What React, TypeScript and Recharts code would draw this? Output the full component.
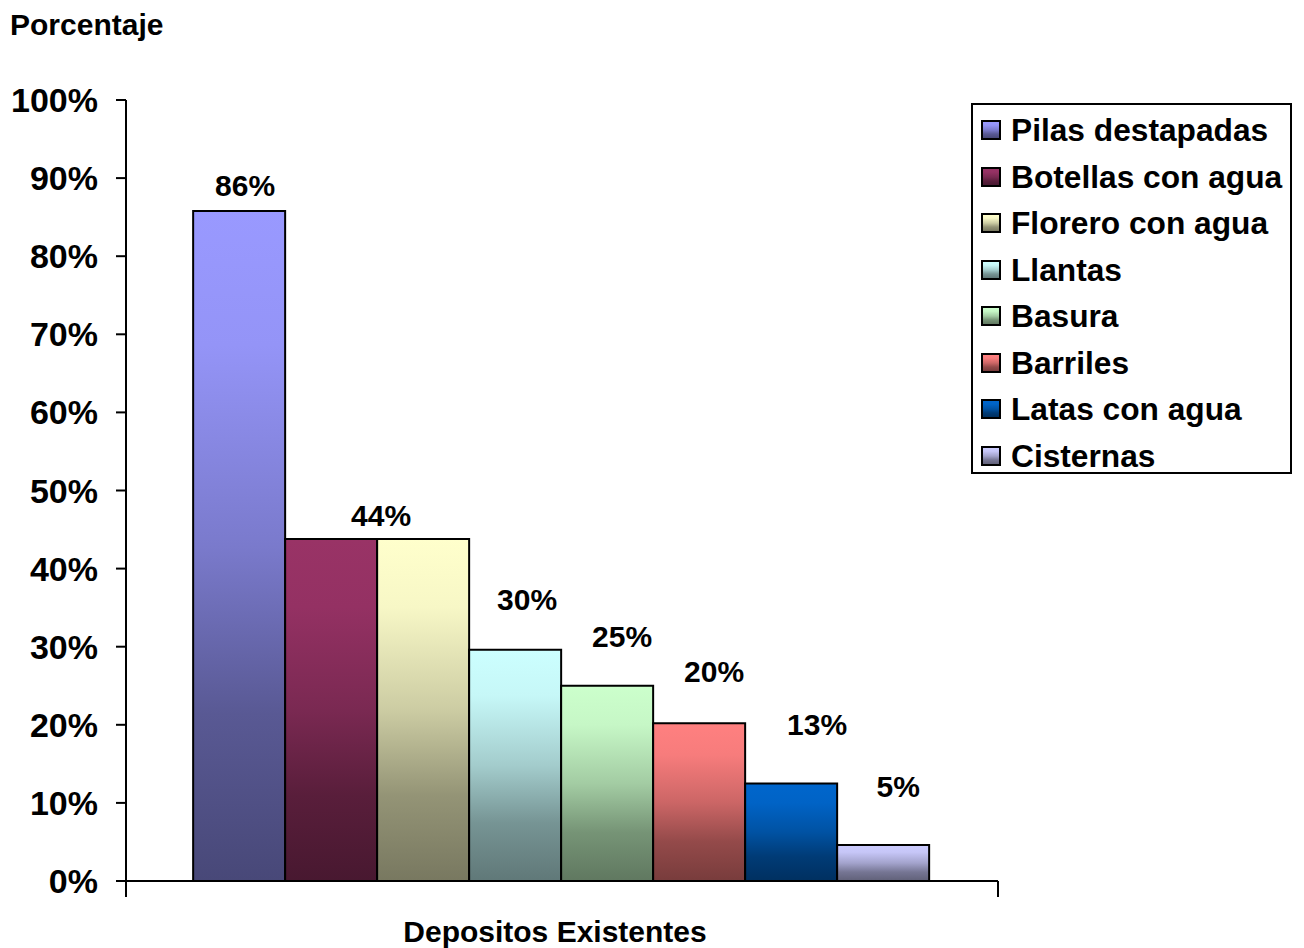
import React from 'react';
import { BarChart, Bar, XAxis, YAxis, Legend, LabelList } from 'recharts';

// ---- data ----
const CATEGORIES = ['Depositos Existentes'];
const SERIES_NAMES = [
  'Pilas destapadas',
  'Botellas con agua',
  'Florero con agua',
  'Llantas',
  'Basura',
  'Barriles',
  'Latas con agua',
  'Cisternas',
];
const SERIES_VALUES = [85.8, 43.8, 43.8, 29.6, 25.0, 20.2, 12.5, 4.6];
const Y_TICKS = [0, 10, 20, 30, 40, 50, 60, 70, 80, 90, 100];

// ---- styling ----
const SERIES_COLORS = ['#9999FF', '#993366', '#FFFFCC', '#CCFFFF', '#CCFFCC', '#FF8080', '#0066CC', '#CCCCFF'];
// the two equal 44% bars share a single value label
const SHOW_LABEL = [true, true, false, true, true, true, true, true];
// label placement relative to the top centre of its bar: [dx, baseline distance above the top]
const LABEL_OFFSETS: [number, number][] = [
  [6, 15], [50, 13], [0, 0], [12, 40], [15, 39], [15, 41], [26, 48], [15, 48],
];
// vertical shading: position along the bar -> brightness factor
const SHADE_STOPS: [number, number][] = [
  [0, 1], [0.2, 0.97], [0.5, 0.8], [0.75, 0.58], [1, 0.47],
];

const FONT = '"Liberation Sans", Arial, Helvetica, sans-serif';
const W = 1304;
const H = 948;
const MARGIN = { top: 100, right: 306, bottom: 0, left: 0 };
const Y_AXIS_W = 126;
const X_AXIS_H = 67;
const PLOT_LEFT = MARGIN.left + Y_AXIS_W;
const PLOT_RIGHT = W - MARGIN.right;

const keyOf = (i: number) => `s${i}`;

const rows = CATEGORIES.map((name) => {
  const row: Record<string, string | number> = { name };
  SERIES_VALUES.forEach((v, i) => {
    row[keyOf(i)] = v;
  });
  return row;
});

function shade(hex: string, f: number): string {
  const n = parseInt(hex.slice(1), 16);
  const r = Math.round(((n >> 16) & 255) * f);
  const g = Math.round(((n >> 8) & 255) * f);
  const b = Math.round((n & 255) * f);
  return `rgb(${r},${g},${b})`;
}

function cssGradient(hex: string): string {
  return `linear-gradient(to bottom, ${SHADE_STOPS.map(([o, f]) => `${shade(hex, f)} ${o * 100}%`).join(', ')})`;
}

const CategoryTick = (props: any) => {
  const { x, y, payload } = props;
  return (
    <g>
      <line x1={PLOT_LEFT} x2={PLOT_LEFT} y1={y - 16} y2={y} stroke="#000" strokeWidth={2} />
      <line x1={PLOT_RIGHT} x2={PLOT_RIGHT} y1={y - 16} y2={y} stroke="#000" strokeWidth={2} />
      <text
        x={x - 7}
        y={y + 45}
        textAnchor="middle"
        fill="#000"
        fontSize={30}
        fontWeight={700}
        fontFamily={FONT}
      >
        {payload.value}
      </text>
    </g>
  );
};

const makeValueLabel = (seriesIndex: number) => (props: any) => {
  const { x, y, width, value } = props;
  const [dx, up] = LABEL_OFFSETS[seriesIndex];
  return (
    <text
      x={Number(x) + Number(width) / 2 + dx}
      y={Number(y) - up}
      textAnchor="middle"
      fill="#000"
      fontSize={30}
      fontWeight={700}
      fontFamily={FONT}
    >
      {`${Math.round(Number(value))}%`}
    </text>
  );
};

const LegendBox = () => (
  <div
    style={{
      boxSizing: 'border-box',
      width: 321,
      height: 371,
      border: '2px solid #000',
      background: '#fff',
      paddingTop: 2,
      fontFamily: FONT,
      fontWeight: 700,
      fontSize: 31.7,
      color: '#000',
    }}
  >
    {SERIES_NAMES.map((name, i) => (
      <div
        key={name}
        style={{ display: 'flex', alignItems: 'center', height: 46.5, whiteSpace: 'nowrap' }}
      >
        <div
          style={{
            boxSizing: 'border-box',
            width: 20,
            height: 20,
            marginLeft: 8,
            marginRight: 10,
            border: '2px solid #000',
            background: cssGradient(SERIES_COLORS[i]),
            flex: 'none',
          }}
        />
        <span style={{ lineHeight: '46.5px' }}>{name}</span>
      </div>
    ))}
  </div>
);

export default function App() {
  return (
    <div style={{ position: 'absolute', left: 0, top: 0, width: W, height: H, background: '#fff' }}>
      <div
        style={{
          position: 'absolute',
          left: 10,
          top: 9.6,
          fontFamily: FONT,
          fontWeight: 700,
          fontSize: 30,
          lineHeight: 1,
          color: '#000',
          whiteSpace: 'nowrap',
        }}
      >
        Porcentaje
      </div>
      <BarChart
        width={W}
        height={H}
        data={rows}
        margin={MARGIN}
        barGap={0}
        barCategoryGap="7.7%"
      >
        <defs>
          {SERIES_COLORS.map((c, i) => (
            <linearGradient key={c + i} id={`grad-${i}`} x1="0" y1="0" x2="0" y2="1">
              {SHADE_STOPS.map(([o, f]) => (
                <stop key={o} offset={o} stopColor={shade(c, f)} />
              ))}
            </linearGradient>
          ))}
        </defs>
        <XAxis
          dataKey="name"
          height={X_AXIS_H}
          interval={0}
          tickLine={false}
          tickSize={16}
          tickMargin={0}
          axisLine={{ stroke: '#000', strokeWidth: 2 }}
          tick={<CategoryTick />}
        />
        <YAxis
          width={Y_AXIS_W}
          domain={[0, 100]}
          ticks={Y_TICKS}
          interval={0}
          tickFormatter={(v: number) => `${v}%`}
          tickSize={10}
          tickMargin={18}
          tickLine={{ stroke: '#000', strokeWidth: 2 }}
          axisLine={{ stroke: '#000', strokeWidth: 2 }}
          tick={{ fill: '#000', fontSize: 34, fontWeight: 700, fontFamily: FONT }}
        />
        <Legend
          layout="vertical"
          align="center"
          verticalAlign="middle"
          wrapperStyle={{ left: 971, top: 103, width: 321, height: 371 }}
          content={<LegendBox />}
        />
        {SERIES_NAMES.map((name, i) => (
          <Bar
            key={name}
            dataKey={keyOf(i)}
            name={name}
            fill={`url(#grad-${i})`}
            stroke="#000"
            strokeWidth={2}
            isAnimationActive={false}
          >
            {SHOW_LABEL[i] && <LabelList dataKey={keyOf(i)} content={makeValueLabel(i)} />}
          </Bar>
        ))}
      </BarChart>
    </div>
  );
}
